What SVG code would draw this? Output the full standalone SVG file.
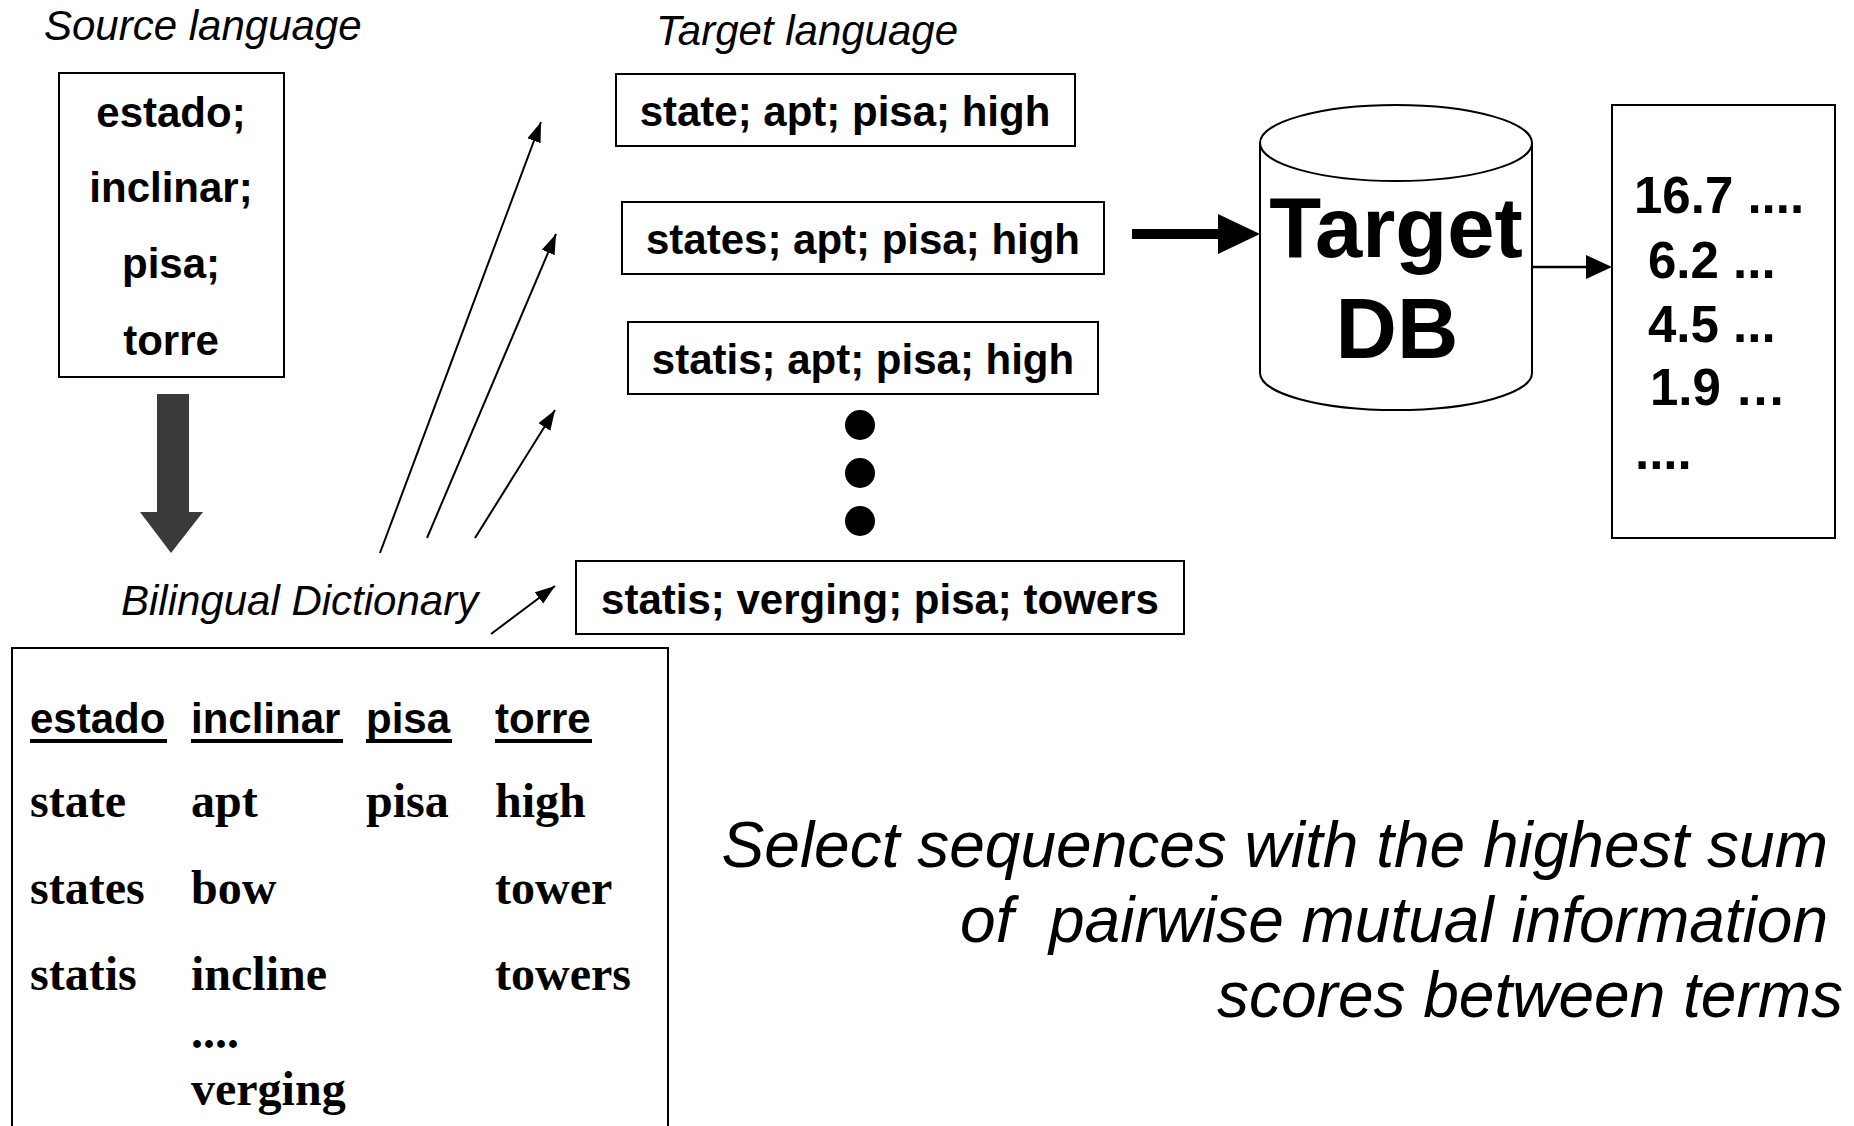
<svg xmlns="http://www.w3.org/2000/svg" width="1854" height="1126" viewBox="0 0 1854 1126">
<style>
.box{fill:#fff;stroke:#000;stroke-width:2}
.it{font-family:"Liberation Sans",Arial,sans-serif;font-style:italic;font-size:42px;fill:#000}
.sb{font-family:"Liberation Sans",Arial,sans-serif;font-weight:bold;font-size:42px;fill:#000}
.num{font-family:"Liberation Sans",Arial,sans-serif;font-weight:bold;font-size:51px;fill:#000}
.tb{font-family:"Liberation Serif","Times New Roman",serif;font-weight:bold;font-size:48px;fill:#000}
.thin{stroke:#000;stroke-width:2;fill:none}
</style>
<defs>
<marker id="ah" markerUnits="userSpaceOnUse" markerWidth="22" markerHeight="16" refX="20" refY="7" orient="auto">
<path d="M0,0 L20,7 L0,14 Z" fill="#000"/>
</marker>
</defs>
<rect width="1854" height="1126" fill="#fff"/>

<text class="it" x="44" y="40">Source language</text>
<text class="it" x="656" y="45">Target language</text>
<text class="it" x="121" y="615">Bilingual Dictionary</text>

<g id="source">
<rect class="box" x="59" y="73" width="225" height="304"/>
<text class="sb" x="171" y="127" text-anchor="middle">estado;</text>
<text class="sb" x="171" y="202" text-anchor="middle">inclinar;</text>
<text class="sb" x="171" y="278" text-anchor="middle">pisa;</text>
<text class="sb" x="171" y="355" text-anchor="middle">torre</text>
</g>

<g id="dictionary">
<rect class="box" x="12" y="648" width="656" height="490"/>
<text class="sb" x="30" y="733">estado</text>
<text class="sb" x="191" y="733">inclinar</text>
<text class="sb" x="366" y="733">pisa</text>
<text class="sb" x="495" y="733">torre</text>
<rect x="30" y="739" width="137" height="4" fill="#000"/>
<rect x="191" y="739" width="152" height="4" fill="#000"/>
<rect x="366" y="739" width="86" height="4" fill="#000"/>
<rect x="495" y="739" width="97" height="4" fill="#000"/>
<text class="tb" x="30" y="817">state</text>
<text class="tb" x="191" y="817">apt</text>
<text class="tb" x="366" y="817">pisa</text>
<text class="tb" x="495" y="817">high</text>
<text class="tb" x="30" y="904">states</text>
<text class="tb" x="191" y="904">bow</text>
<text class="tb" x="495" y="904">tower</text>
<text class="tb" x="30" y="990">statis</text>
<text class="tb" x="191" y="990">incline</text>
<text class="tb" x="495" y="990">towers</text>
<text class="tb" x="191" y="1048">....</text>
<text class="tb" x="191" y="1105">verging</text>
</g>

<g id="seq1">
<rect class="box" x="616" y="74" width="459" height="72"/>
<text class="sb" x="845" y="126" text-anchor="middle">state; apt; pisa; high</text>
</g>
<g id="seq2">
<rect class="box" x="622" y="202" width="482" height="72"/>
<text class="sb" x="863" y="254" text-anchor="middle">states; apt; pisa; high</text>
</g>
<g id="seq3">
<rect class="box" x="628" y="322" width="470" height="72"/>
<text class="sb" x="863" y="374" text-anchor="middle">statis; apt; pisa; high</text>
</g>
<g id="dots">
<circle cx="860" cy="425" r="15" fill="#000"/>
<circle cx="860" cy="473" r="15" fill="#000"/>
<circle cx="860" cy="521" r="15" fill="#000"/>
</g>
<g id="seq4">
<rect class="box" x="576" y="561" width="608" height="73"/>
<text class="sb" x="880" y="614" text-anchor="middle">statis; verging; pisa; towers</text>
</g>

<g id="targetdb">
<path d="M1260,143 L1260,373 A136,37 0 0 0 1532,373 L1532,143" fill="#fff" stroke="#000" stroke-width="2"/>
<ellipse cx="1396" cy="143" rx="136" ry="38" fill="#fff" stroke="#000" stroke-width="2"/>
<text class="sb" x="1396" y="257" text-anchor="middle" style="font-size:85px">Target</text>
<text class="sb" x="1397" y="358" text-anchor="middle" style="font-size:85px">DB</text>
</g>

<g id="scores">
<rect class="box" x="1612" y="105" width="223" height="433"/>
<text class="num" x="1634" y="213">16.7 ....</text>
<text class="num" x="1648" y="278">6.2 ...</text>
<text class="num" x="1648" y="342">4.5 ...</text>
<text class="num" x="1650" y="405">1.9 …</text>
<text class="num" x="1635" y="469">....</text>
</g>

<g id="note">
<text class="it" style="font-size:64px" text-anchor="end" x="1828" y="867">Select sequences with the highest sum</text>
<text class="it" style="font-size:64px" text-anchor="end" x="1828" y="942" xml:space="preserve">of  pairwise mutual information</text>
<text class="it" style="font-size:64px" text-anchor="end" x="1843" y="1017">scores between terms</text>
</g>

<g id="connectors">
<polygon points="157,394 189,394 189,512 203,512 171,553 140,512 157,512" fill="#3a3a3a"/>
<line class="thin" x1="380" y1="553" x2="541" y2="122" marker-end="url(#ah)"/>
<line class="thin" x1="427" y1="538" x2="556" y2="234" marker-end="url(#ah)"/>
<line class="thin" x1="475" y1="538" x2="555" y2="410" marker-end="url(#ah)"/>
<line class="thin" x1="491" y1="634" x2="555" y2="586" marker-end="url(#ah)"/>
<rect x="1132" y="229" width="90" height="10" fill="#000"/>
<polygon points="1218,214 1260,234 1218,254" fill="#000"/>
<line x1="1532" y1="267" x2="1590" y2="267" stroke="#000" stroke-width="2.5"/>
<polygon points="1586,255 1612,267 1586,279" fill="#000"/>
</g>
</svg>
